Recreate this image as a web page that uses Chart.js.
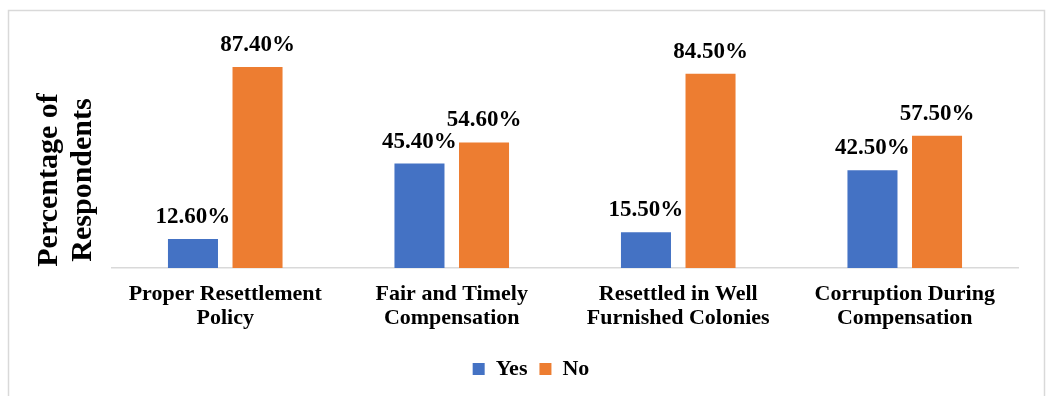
<!DOCTYPE html>
<html>
<head>
<meta charset="utf-8">
<script src="https://cdn.jsdelivr.net/npm/chart.js@4.4.1/dist/chart.umd.min.js"></script>
<style>
  html, body { margin: 0; padding: 0; background: #ffffff; }
  #wrap { position: relative; width: 1047px; height: 396px; }
  canvas { display: block; }
</style>
</head>
<body>
<div id="wrap"><canvas id="chart" width="1047" height="396"></canvas></div>
<script>
// Survey responses on resettlement and compensation
const categories = [
  ['Proper Resettlement', 'Policy'],
  ['Fair and Timely', 'Compensation'],
  ['Resettled in Well', 'Furnished Colonies'],
  ['Corruption During', 'Compensation']
];
const yesValues = [12.6, 45.4, 15.5, 42.5];
const noValues = [87.4, 54.6, 84.5, 57.5];
const yTitleLines = ['Percentage of', 'Respondents'];

const SERIF = '"Liberation Serif", "Times New Roman", serif';

// Outer frame around the whole figure
const framePlugin = {
  id: 'frame',
  afterDraw(chart) {
    const ctx = chart.ctx;
    ctx.save();
    ctx.strokeStyle = '#d9d9d9';
    ctx.lineWidth = 1.5;
    ctx.strokeRect(8.5, 10.5, 1036, 420);
    ctx.restore();
  }
};

// Rotated two-line axis title on the left
const yTitlePlugin = {
  id: 'yTitle',
  afterDraw(chart) {
    const ctx = chart.ctx;
    ctx.save();
    ctx.fillStyle = '#000000';
    ctx.font = 'bold 30px ' + SERIF;
    ctx.textAlign = 'center';
    ctx.textBaseline = 'alphabetic';
    const cy = 180;
    const baselines = [57, 91];
    yTitleLines.forEach((line, i) => {
      ctx.save();
      ctx.translate(baselines[i], cy);
      ctx.rotate(-Math.PI / 2);
      ctx.fillText(line, 0, 0);
      ctx.restore();
    });
    ctx.restore();
  }
};

// Percentage labels above each bar
const valueLabelPlugin = {
  id: 'valueLabels',
  afterDatasetsDraw(chart) {
    const ctx = chart.ctx;
    ctx.save();
    ctx.fillStyle = '#000000';
    ctx.font = 'bold 23px ' + SERIF;
    ctx.textAlign = 'center';
    ctx.textBaseline = 'alphabetic';
    chart.data.datasets.forEach((ds, di) => {
      const meta = chart.getDatasetMeta(di);
      meta.data.forEach((bar, i) => {
        ctx.fillText(ds.data[i].toFixed(2) + '%', bar.x, bar.y - 16);
      });
    });
    ctx.restore();
  }
};

new Chart(document.getElementById('chart'), {
  type: 'bar',
  data: {
    labels: categories,
    datasets: [
      { label: 'Yes', data: yesValues, backgroundColor: '#4472C4' },
      { label: 'No', data: noValues, backgroundColor: '#ED7D31' }
    ]
  },
  options: {
    responsive: false,
    animation: false,
    devicePixelRatio: 1,
    layout: { padding: { left: 15, right: 0, top: 38, bottom: 6 } },
    datasets: {
      bar: { categoryPercentage: 0.57, barPercentage: 0.775 }
    },
    scales: {
      x: {
        grid: { display: false, drawTicks: false },
        border: { display: true, color: '#d9d9d9', width: 1.5 },
        ticks: {
          color: '#000000',
          padding: 15,
          maxRotation: 0,
          autoSkip: false,
          font: { family: SERIF, size: 22, weight: 'bold', lineHeight: 1.06 }
        },
        afterFit(scale) { scale.height = 78; }
      },
      y: {
        min: 0,
        max: 100,
        grid: { display: false, drawTicks: false },
        border: { display: false },
        ticks: { display: false },
        afterFit(scale) { scale.width = 97; }
      },
      yRight: {
        type: 'linear',
        position: 'right',
        min: 0,
        max: 100,
        grid: { display: false, drawTicks: false },
        border: { display: false },
        ticks: { display: false },
        afterFit(scale) { scale.width = 29; }
      }
    },
    plugins: {
      legend: {
        position: 'bottom',
        labels: {
          color: '#000000',
          boxWidth: 12,
          boxHeight: 12,
          padding: 12,
          font: { family: SERIF, size: 22, weight: 'bold' }
        }
      },
      tooltip: { enabled: false }
    }
  },
  plugins: [framePlugin, yTitlePlugin, valueLabelPlugin]
});
</script>
</body>
</html>
